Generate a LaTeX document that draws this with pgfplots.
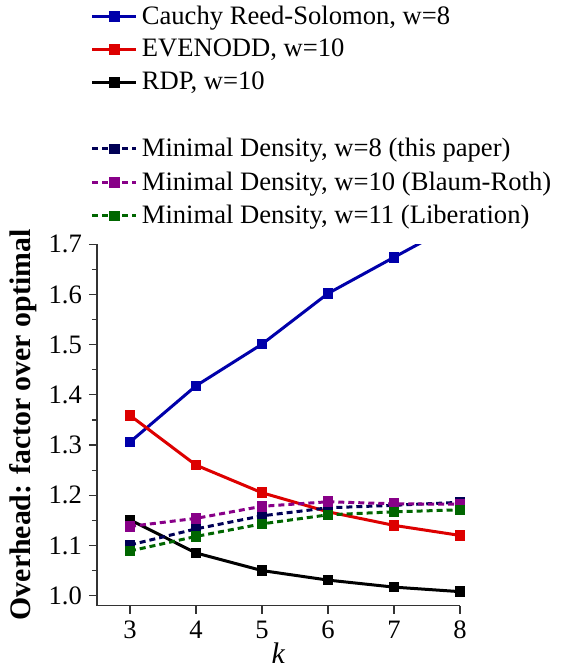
\documentclass[border=0pt]{standalone}
\usepackage{fontspec}
\setmainfont{Liberation Serif}
\setsansfont{Liberation Serif}
\usepackage{pgfplots}
\pgfplotsset{compat=1.18}
\definecolor{cblue}{HTML}{0000AA}
\definecolor{cred}{HTML}{DD0000}
\definecolor{cnavy}{HTML}{000055}
\definecolor{cpurple}{HTML}{880088}
\definecolor{cgreen}{HTML}{006600}
\begin{document}
\begin{tikzpicture}
\useasboundingbox (-48.5pt,-31.15pt) rectangle (232pt,302.85pt);
\begin{axis}[
  at={(0,0)}, anchor=south west,
  x=33pt, y=251pt,
  xmin=2.5, xmax=8, ymin=0.98, ymax=1.7,
  axis lines*=left,
  axis line style={line width=0.6pt, color=black!80},
  tick align=outside,
  tick style={line width=0.6pt, color=black!80},
  major tick length=4pt, minor tick length=2.5pt,
  xtick={3,4,5,6,7,8},
  ytick={1.0,1.1,1.2,1.3,1.4,1.5,1.6,1.7},
  minor ytick={1.05,1.15,1.25,1.35,1.45,1.55,1.65},
  yticklabel style={/pgf/number format/.cd, fixed, fixed zerofill, precision=1},
  /pgf/number format/assume math mode=true,
  ticklabel style={font=\rmfamily\fontsize{13.3}{15}\selectfont},
  xlabel={\textit{k}},
  ylabel={\textbf{Overhead: factor over optimal}},
  label style={font=\rmfamily\fontsize{14.9}{16}\selectfont},
  xlabel style={yshift=5pt},
  ylabel style={yshift=-1pt},
  clip=true,
  every axis plot/.append style={line width=1.5pt, mark=square*, mark size=1.9pt, mark options={solid}},
  legend cell align=left,
  legend style={at={(-0.018,1.672)}, anchor=north west, draw=none, fill=none,
    font=\rmfamily\fontsize{13.3}{15}\selectfont, row sep=2pt, inner sep=0pt},
  legend image code/.code={
    \draw[#1, mark repeat=2, mark phase=2] plot coordinates {(0pt,0pt) (11pt,0pt) (22pt,0pt)};
  },
]
\addplot[cblue] coordinates {(3,1.306) (4,1.418) (5,1.501) (6,1.602) (7,1.674) (8,1.745)};
\addlegendentry{Cauchy Reed-Solomon, w=8}
\addplot[cred] coordinates {(3,1.359) (4,1.260) (5,1.205) (6,1.167) (7,1.140) (8,1.120)};
\addlegendentry{EVENODD, w=10}
\addplot[black] coordinates {(3,1.151) (4,1.085) (5,1.050) (6,1.031) (7,1.017) (8,1.008)};
\addlegendentry{RDP, w=10}
\addlegendimage{empty legend}
\addlegendentry{\rule{0pt}{9.3pt}}
\addplot[cnavy, dash pattern=on 3pt off 2pt] coordinates {(3,1.101) (4,1.133) (5,1.159) (6,1.175) (7,1.180) (8,1.186)};
\addlegendentry{Minimal Density, w=8 (this paper)}
\addplot[cpurple, dash pattern=on 3pt off 2pt] coordinates {(3,1.138) (4,1.154) (5,1.178) (6,1.187) (7,1.183) (8,1.182)};
\addlegendentry{Minimal Density, w=10 (Blaum-Roth)}
\addplot[cgreen, dash pattern=on 3pt off 2pt] coordinates {(3,1.089) (4,1.118) (5,1.143) (6,1.161) (7,1.167) (8,1.171)};
\addlegendentry{Minimal Density, w=11 (Liberation)}
\end{axis}
\end{tikzpicture}
\end{document}
